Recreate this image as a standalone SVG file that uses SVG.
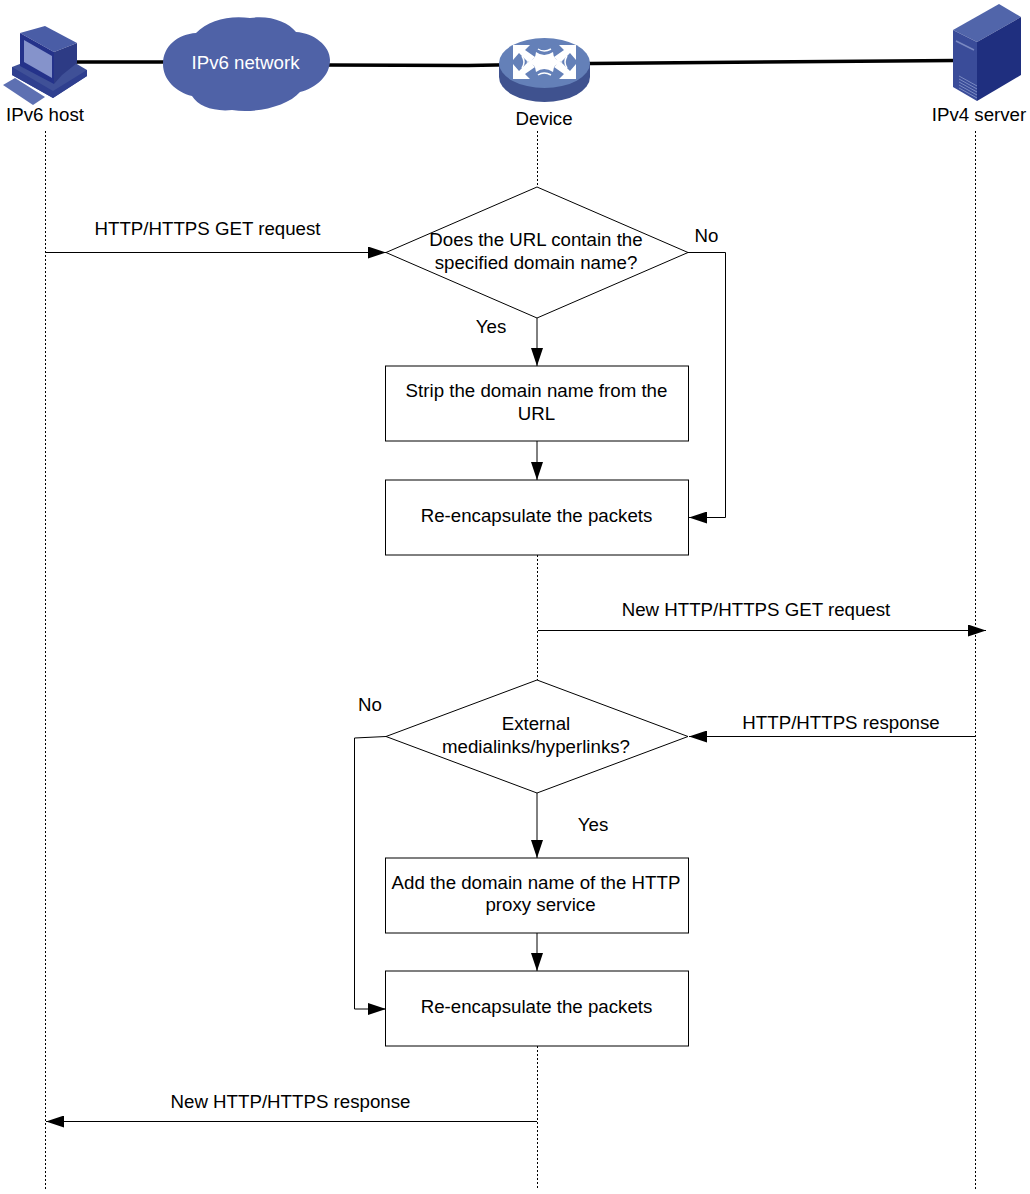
<svg xmlns="http://www.w3.org/2000/svg" width="1030" height="1194" viewBox="0 0 1030 1194">
<style>
text{font-family:"Liberation Sans",Arial,sans-serif;font-size:18.7px;fill:#000;text-anchor:middle}
.l{stroke:#000;stroke-width:1;fill:none}
.d{stroke:#000;stroke-width:1;fill:none;stroke-dasharray:2 2}
.a{stroke:#000;stroke-width:1;fill:none;marker-end:url(#ah)}
.b{fill:#fff;stroke:#000;stroke-width:1}
.t{stroke:#000;stroke-width:3.5;fill:none}
</style>
<defs><marker id="ah" markerUnits="userSpaceOnUse" markerWidth="19" markerHeight="12" refX="18" refY="6" orient="auto"><path d="M0 0L18 6L0 12Z" fill="#000"/></marker></defs>
<g id="connectors">
<path class="t" d="M76 62H165M328 65L468 65.500L590 63.500L955 60.500"/>
<path class="d" d="M45.500 131V1190M537.500 131V187M537.500 555V680M537.500 1046V1190M975.500 131V1190"/>
<path class="a" d="M45 252.500H386"/>
<path class="l" d="M688 252.500H725.500V517.500"/>
<path class="a" d="M725.500 517.500H689"/>
<path class="a" d="M537 318V366"/>
<path class="a" d="M537 441V480"/>
<path class="a" d="M538 630.500H986"/>
<path class="a" d="M975 736.500H689"/>
<path class="l" d="M386 736.500L354.500 738V1009"/>
<path class="a" d="M354.500 1009H386"/>
<path class="a" d="M537 793V858"/>
<path class="a" d="M537 933V971"/>
<path class="a" d="M537 1121.500H46"/>
</g>
<g id="host">
<path d="M12 67L25 62L70 60L87 70V76L53 98L12 75Z" fill="#3f5097"/>
<path d="M12 67L53 91L87 70V76L53 98L12 75Z" fill="#2f3f8f"/>
<path d="M3 85L15 78L45 97L33 105Z" fill="#5d70b2"/>
<path d="M20 33L45 26L77 43L54 52Z" fill="#4a5da6"/>
<path d="M54 52L77 43V63L62 75L54 84Z" fill="#2d3b85"/>
<path d="M20 33L54 52V84L20 66Z" fill="#24328a"/>
<path d="M24 40L52 56V78L24 62Z" fill="#8593cb"/>
<text x="45" y="121">IPv6 host</text>
</g>
<g id="cloud">
<path d="M163 64C163 46 178 34 196 33C208 20 230 15 250 18C270 15 288 22 296 32C314 33 330 46 330 60C330 76 316 88 300 92C288 106 256 114 232 110C214 112 198 106 192 96C176 92 163 80 163 64Z" fill="#4f62a7"/>
<text x="245.500" y="68.500" style="fill:#fff">IPv6 network</text>
</g>
<g id="device">
<path d="M499 63V77A45.500 25 0 0 0 590 77V63Z" fill="#3f528f"/>
<ellipse cx="544.500" cy="63" rx="45.500" ry="25" fill="#6480b8"/>
<path d="M513 45H530L525 50L535 57L529 63L519 53L513 60ZM576 45H559L564 50L554 57L560 63L570 53L576 60ZM513 79H530L525 74L535 67L529 61L519 71L513 64ZM576 79H559L564 74L554 67L560 61L570 71L576 64Z" fill="#fff"/>
<path d="M526 62Q536 60 536 52Q544 58 553 52Q553 60 563 62Q553 64 553 72Q544 66 536 72Q536 64 526 62Z" fill="#fff"/>
<path d="M538 49Q544 53 551 49M538 75Q544 71 551 75M522 56Q526 62 522 68M567 56Q563 62 567 68" fill="none" stroke="#fff" stroke-width="1.500"/>
<text x="544" y="124.500">Device</text>
</g>
<g id="server">
<path d="M953 30L999 4L1021 17L977 42Z" fill="#5165aa"/>
<path d="M953 30L977 42V101L953 87Z" fill="#3a4c99"/>
<path d="M977 42L1021 17V75L977 101Z" fill="#1f2f7f"/>
<path d="M956 41L974 50" stroke="#7a8ac2" stroke-width="1.500" fill="none"/>
<path d="M959 76L977 86M959 79L977 89M959 82L977 92M959 85L977 95M959 88L977 98" stroke="#7a8ac2" stroke-width="1" fill="none"/>
<text x="979" y="121">IPv4 server</text>
</g>
<g id="d1"><path class="b" d="M386 252.500L537 187L688 252.500L537 318Z"/><text x="536" y="246">Does the URL contain the</text><text x="536" y="269">specified domain name?</text></g>
<g id="p1"><rect class="b" x="385.500" y="366" width="303" height="75"/><text x="536.500" y="397">Strip the domain name from the</text><text x="536.500" y="420">URL</text></g>
<g id="p2"><rect class="b" x="385.500" y="480" width="303" height="75"/><text x="536.500" y="522">Re-encapsulate the packets</text></g>
<g id="d2"><path class="b" d="M386 736.500L537 680L688 736.500L537 793Z"/><text x="536" y="730">External</text><text x="536" y="753">medialinks/hyperlinks?</text></g>
<g id="p3"><rect class="b" x="385.500" y="858" width="303" height="75"/><text x="536" y="889">Add the domain name of the HTTP</text><text x="540.500" y="911">proxy service</text></g>
<g id="p4"><rect class="b" x="385.500" y="971" width="303" height="75"/><text x="536.500" y="1013">Re-encapsulate the packets</text></g>
<g id="labels">
<text x="207.500" y="235">HTTP/HTTPS GET request</text>
<text x="706.500" y="242">No</text>
<text x="491" y="333">Yes</text>
<text x="756" y="616">New HTTP/HTTPS GET request</text>
<text x="370" y="711">No</text>
<text x="841" y="729">HTTP/HTTPS response</text>
<text x="593" y="831">Yes</text>
<text x="290.500" y="1107.500">New HTTP/HTTPS response</text>
</g>
</svg>
